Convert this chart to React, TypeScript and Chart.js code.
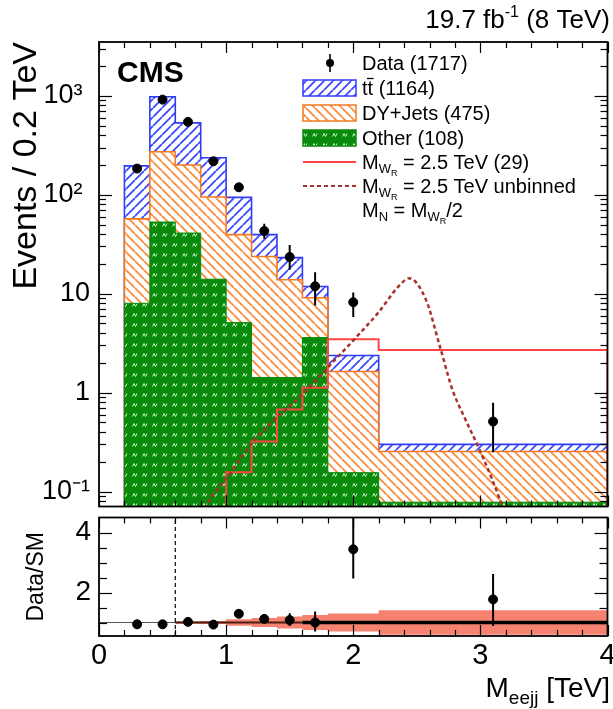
import React, { useEffect, useRef } from "react";
import { Chart, registerables } from "chart.js";
Chart.register(...registerables);

const FONT = "'Liberation Sans', Arial, Helvetica, sans-serif";

// ---------------- data ----------------
const binEdges = [0.2, 0.4, 0.6, 0.8, 1.0, 1.2, 1.4, 1.6, 1.8, 2.2, 4.0];
const otherEvents = [8, 53, 41, 14, 5.1, 1.42, 1.42, 3.6, 0.155, 0.078];
const dyJetsEvents = [49, 219, 159, 81, 34.4, 22.3, 12.4, 5.5, 1.48, 0.176];
const ttbarEvents = [139, 705, 333, 142, 54.5, 15.8, 9.3, 2.7, 0.74, 0.046];
const signalEvents = [0.01, 0.01, 0.01, 0.01, 0.157, 0.32, 0.676, 1.12, 3.47, 2.7];

const unbinnedMass = [0.78, 0.86, 1.0, 1.21, 1.39, 1.62, 1.81, 2.01, 2.2, 2.36, 2.44, 2.57, 2.68, 2.78, 2.88, 2.99, 3.09, 3.15, 3.2];
const unbinnedEvents = [0.05, 0.079, 0.135, 0.316, 0.545, 1.01, 1.85, 3.48, 6.5, 12.0, 14.3, 8.8, 2.98, 1.07, 0.544, 0.271, 0.135, 0.085, 0.055];

const dataMass = [0.3, 0.5, 0.7, 0.9, 1.1, 1.3, 1.5, 1.7, 2.0, 3.1];
const dataEvents = [184, 915, 545, 218, 119, 43, 23.5, 11.9, 8.2, 0.51];
const dataErrLow = [171, 885, 522, 204, 108, 36, 17.5, 7.6, 5.8, 0.25];
const dataErrHigh = [198, 945, 568, 233, 131, 51, 31, 16.5, 10.3, 0.79];

const ratioValues = [0.94, 0.94, 1.02, 0.93, 1.29, 1.12, 1.08, 1.0, 3.44, 1.77];
const ratioErrLow = [0.9, 0.91, 0.98, 0.88, 1.17, 0.98, 0.88, 0.7, 2.47, 0.88];
const ratioErrHigh = [0.98, 0.97, 1.06, 0.98, 1.41, 1.27, 1.31, 1.37, 4.7, 2.62];

const bandEdges = [0.6, 0.8, 1.0, 1.2, 1.4, 1.6, 1.8, 2.2, 4.0];
const bandHalfWidth = [0.04, 0.05, 0.11, 0.15, 0.2, 0.25, 0.3, 0.41];

const mainTickValues = [0.1, 1, 10, 100, 1000];
const mainTickLabels = ["10\u207B\u00B9", "1", "10", "10\u00B2 ", "10\u00B3 "];
const ratioTickValues = [2, 4];
const ratioTickLabels = ["2", "4"];
const massTickValues = [0, 1, 2, 3, 4];
const massTickLabels = ["0", "1", "2", "3", "4"];
const legendCounts = ["(1717)", "(1164)", "(475)", "(108)", "(29)"];

const Y_MIN = 0.0706;
const Y_MAX = 3500;
const R_MIN = 0.55;
const R_MAX = 4.5;

// ---------------- helpers ----------------
type Part = { t: string; size: number; dy?: number; bold?: boolean };

function drawParts(ctx: CanvasRenderingContext2D, parts: Part[], x: number, y: number, align: "left" | "right") {
  ctx.textBaseline = "alphabetic";
  ctx.textAlign = "left";
  const widths = parts.map((p) => {
    ctx.font = `${p.bold ? "bold " : ""}${p.size}px ${FONT}`;
    return ctx.measureText(p.t).width;
  });
  const total = widths.reduce((a, b) => a + b, 0);
  let cx = align === "right" ? x - total : x;
  const starts: number[] = [];
  parts.forEach((p, i) => {
    ctx.font = `${p.bold ? "bold " : ""}${p.size}px ${FONT}`;
    starts.push(cx);
    ctx.fillText(p.t, cx, y + (p.dy || 0));
    cx += widths[i];
  });
  return { starts, widths };
}

function makeHatch(ctx: CanvasRenderingContext2D, color: string, dir: number, size: number, lw: number) {
  const c = document.createElement("canvas");
  c.width = size;
  c.height = size;
  const g = c.getContext("2d")!;
  g.fillStyle = "#ffffff";
  g.fillRect(0, 0, size, size);
  g.strokeStyle = color;
  g.lineWidth = lw;
  g.beginPath();
  for (let k = -1; k <= 1; k++) {
    if (dir > 0) {
      g.moveTo(k * size, size);
      g.lineTo(k * size + size, 0);
    } else {
      g.moveTo(k * size, 0);
      g.lineTo(k * size + size, size);
    }
  }
  g.stroke();
  return ctx.createPattern(c, "repeat")!;
}

function makeGreen(ctx: CanvasRenderingContext2D) {
  const c = document.createElement("canvas");
  c.width = 10;
  c.height = 10;
  const g = c.getContext("2d")!;
  g.fillStyle = "#0a8a0a";
  g.fillRect(0, 0, 10, 10);
  g.strokeStyle = "rgba(215,255,215,0.9)";
  g.lineWidth = 1;
  g.beginPath();
  g.moveTo(2.5, 6.5);
  g.lineTo(4, 3.5);
  g.lineTo(5.5, 6.5);
  g.lineTo(7, 3.5);
  g.stroke();
  return ctx.createPattern(c, "repeat")!;
}

function stepPoints(edges: number[], values: number[], floor?: number) {
  const pts: { x: number; y: number }[] = [];
  if (floor !== undefined) pts.push({ x: edges[0], y: floor });
  values.forEach((v, i) => pts.push({ x: edges[i], y: v }));
  pts.push({ x: edges[edges.length - 1], y: values[values.length - 1] });
  if (floor !== undefined) pts.push({ x: edges[edges.length - 1], y: floor });
  return pts;
}

function line(ctx: CanvasRenderingContext2D, x1: number, y1: number, x2: number, y2: number) {
  ctx.beginPath();
  ctx.moveTo(x1, y1);
  ctx.lineTo(x2, y2);
  ctx.stroke();
}

function drawXTicks(ctx: CanvasRenderingContext2D, x: any, a: any) {
  for (let k = 0; k <= 20; k++) {
    const px = Math.round(x.getPixelForValue(k * 0.2)) + 0.5;
    const len = k % 5 === 0 ? 11 : 6;
    line(ctx, px, a.top, px, a.top + len);
    line(ctx, px, a.bottom, px, a.bottom - len);
  }
}

export default function App() {
  const mainRef = useRef<HTMLCanvasElement>(null);
  const ratioRef = useRef<HTMLCanvasElement>(null);

  useEffect(() => {
    document.body.style.margin = "0";
    const mc = mainRef.current!;
    const rc = ratioRef.current!;
    const mctx = mc.getContext("2d")!;
    const ttColor = "#2e3cf6";
    const dyColor = "#f47a22";
    const grColor = "#0a8a0a";
    const sigColor = "#ff4545";
    const unbColor = "#a8322c";
    const ttPat = makeHatch(mctx, "#3a4aff", 1, 9, 1.8);
    const dyPat = makeHatch(mctx, "#fb8b3e", -1, 9, 1.8);
    const grPat = makeGreen(mctx);
    const floor = 1e-3;

    const otherTop = otherEvents.slice();
    const dyTop = otherEvents.map((v, i) => v + dyJetsEvents[i]);
    const totalTop = dyTop.map((v, i) => v + ttbarEvents[i]);

    const mainDecor = {
      id: "mainDecor",
      afterDatasetsDraw(chart: any) {
        const { ctx, chartArea: a, scales } = chart;
        const x = scales.x, y = scales.y;
        ctx.save();
        ctx.beginPath();
        ctx.rect(a.left, a.top, a.right - a.left, a.bottom - a.top);
        ctx.clip();
        ctx.strokeStyle = "#000";
        ctx.lineWidth = 2;
        dataMass.forEach((m, i) => {
          const px = x.getPixelForValue(m);
          line(ctx, px, y.getPixelForValue(dataErrLow[i]), px, y.getPixelForValue(dataErrHigh[i]));
        });
        ctx.restore();
      },
      afterDraw(chart: any) {
        const { ctx, chartArea: a, scales } = chart;
        const x = scales.x, y = scales.y;
        ctx.save();
        ctx.strokeStyle = "#000";
        ctx.lineWidth = 1.2;
        for (let e = -2; e <= 4; e++) {
          for (let m = 1; m <= 9; m++) {
            const v = m * Math.pow(10, e);
            if (v < Y_MIN || v > Y_MAX) continue;
            const py = Math.round(y.getPixelForValue(v)) + 0.5;
            const len = m === 1 ? 13 : 7;
            line(ctx, a.left, py, a.left + len, py);
            line(ctx, a.right, py, a.right - len, py);
          }
        }
        drawXTicks(ctx, x, a);
        ctx.lineWidth = 1.8;
        ctx.strokeRect(a.left, a.top, a.right - a.left, a.bottom - a.top);

        ctx.fillStyle = "#000";
        // luminosity label
        drawParts(ctx, [
          { t: "19.7 fb", size: 26 },
          { t: "-1", size: 16, dy: -11 },
          { t: " (8 TeV)", size: 26 },
        ], 610, 28, "right");
        // CMS
        drawParts(ctx, [{ t: "CMS", size: 30, bold: true }], 117, 82, "left");

        // legend
        const lx0 = 303, lx1 = 356, tx = 362, bh = 16;
        const rows = [63, 88, 113, 138, 162, 186, 210];
        const fs = 20;
        const base = (r: number) => rows[r] + 7;
        ctx.fillStyle = "#000";
        ctx.beginPath();
        ctx.arc(330, rows[0], 4, 0, Math.PI * 2);
        ctx.fill();
        ctx.lineWidth = 1.6;
        line(ctx, 330, rows[0] - 9, 330, rows[0] + 9);
        const box = (fill: any, stroke: string, r: number) => {
          ctx.fillStyle = fill;
          ctx.fillRect(lx0, rows[r] - bh / 2, lx1 - lx0, bh);
          ctx.strokeStyle = stroke;
          ctx.lineWidth = 1.5;
          ctx.strokeRect(lx0, rows[r] - bh / 2, lx1 - lx0, bh);
        };
        box(ttPat, ttColor, 1);
        box(dyPat, dyColor, 2);
        box(grPat, grColor, 3);
        ctx.strokeStyle = sigColor;
        ctx.lineWidth = 2;
        line(ctx, lx0, rows[4], lx1, rows[4]);
        ctx.strokeStyle = unbColor;
        ctx.lineWidth = 2.2;
        ctx.setLineDash([4, 3]);
        line(ctx, lx0, rows[5], lx1, rows[5]);
        ctx.setLineDash([]);

        ctx.fillStyle = "#000";
        drawParts(ctx, [{ t: "Data " + legendCounts[0], size: fs }], tx, base(0), "left");
        const tt = drawParts(ctx, [{ t: "t", size: fs }, { t: "t", size: fs }, { t: " " + legendCounts[1], size: fs }], tx, base(1), "left");
        ctx.strokeStyle = "#000";
        ctx.lineWidth = 1.3;
        line(ctx, tt.starts[1] - 0.5, base(1) - 16.5, tt.starts[1] + tt.widths[1] + 0.5, base(1) - 16.5);
        drawParts(ctx, [{ t: "DY+Jets " + legendCounts[2], size: fs }], tx, base(2), "left");
        drawParts(ctx, [{ t: "Other " + legendCounts[3], size: fs }], tx, base(3), "left");
        const mw: Part[] = [
          { t: "M", size: fs },
          { t: "W", size: 13, dy: 4 },
          { t: "R", size: 9, dy: 7 },
        ];
        drawParts(ctx, [...mw, { t: " = 2.5 TeV " + legendCounts[4], size: fs }], tx, base(4), "left");
        drawParts(ctx, [...mw, { t: " = 2.5 TeV unbinned", size: fs }], tx, base(5), "left");
        drawParts(ctx, [
          { t: "M", size: fs },
          { t: "N", size: 13, dy: 4 },
          { t: " = M", size: fs },
          { t: "W", size: 13, dy: 4 },
          { t: "R", size: 9, dy: 7 },
          { t: "/2", size: fs },
        ], tx, base(6), "left");
        ctx.restore();
      },
    };

    const main = new Chart(mc, {
      type: "line",
      data: {
        datasets: [
          {
            label: "Data",
            data: dataMass.map((x, i) => ({ x, y: dataEvents[i] })),
            showLine: false,
            pointRadius: 4.5,
            pointBackgroundColor: "#000",
            pointBorderColor: "#000",
            order: 0,
          },
          {
            label: "MWR = 2.5 TeV unbinned",
            data: unbinnedMass.map((x, i) => ({ x, y: unbinnedEvents[i] })),
            borderColor: unbColor,
            borderWidth: 2.5,
            borderDash: [4, 3],
            pointRadius: 0,
            cubicInterpolationMode: "monotone",
            fill: false,
            order: 1,
          },
          {
            label: "MWR = 2.5 TeV",
            data: stepPoints(binEdges, signalEvents, floor),
            stepped: true,
            borderColor: sigColor,
            borderWidth: 2,
            pointRadius: 0,
            fill: false,
            order: 2,
          },
          {
            label: "Other",
            data: stepPoints(binEdges, otherTop, floor),
            stepped: true,
            borderColor: grColor,
            borderWidth: 1,
            backgroundColor: grPat,
            fill: "start",
            pointRadius: 0,
            order: 3,
          },
          {
            label: "DY+Jets",
            data: stepPoints(binEdges, dyTop, floor),
            stepped: true,
            borderColor: dyColor,
            borderWidth: 1.6,
            backgroundColor: dyPat,
            fill: "start",
            pointRadius: 0,
            order: 4,
          },
          {
            label: "ttbar",
            data: stepPoints(binEdges, totalTop, floor),
            stepped: true,
            borderColor: ttColor,
            borderWidth: 1.6,
            backgroundColor: ttPat,
            fill: "start",
            pointRadius: 0,
            order: 5,
          },
        ],
      },
      options: {
        responsive: false,
        animation: false,
        devicePixelRatio: 1,
        events: [],
        layout: { padding: { top: 42, right: 4, bottom: 4, left: 0 } },
        plugins: { legend: { display: false }, tooltip: { enabled: false } },
        scales: {
          x: { type: "linear", min: 0, max: 4, display: false },
          y: {
            type: "logarithmic",
            min: Y_MIN,
            max: Y_MAX,
            afterBuildTicks: (s: any) => {
              s.ticks = mainTickValues.map((v) => ({ value: v }));
            },
            afterFit: (s: any) => {
              s.width = 99;
              s.paddingTop = 0;
              s.paddingBottom = 0;
            },
            ticks: {
              autoSkip: false,
              callback: (_v: any, i: number) => mainTickLabels[i],
              font: { family: FONT, size: 27 },
              color: "#000",
              padding: 9,
            },
            grid: { display: false, drawTicks: false },
            border: { display: false },
            title: {
              display: true,
              text: "Events / 0.2 TeV",
              align: "end",
              color: "#000",
              font: { family: FONT, size: 34 },
              padding: { top: 6, bottom: 0 },
            },
          },
        },
      },
      plugins: [mainDecor],
    } as any);

    const ratioDecor = {
      id: "ratioDecor",
      afterDatasetsDraw(chart: any) {
        const { ctx, chartArea: a, scales } = chart;
        const x = scales.x, y = scales.y;
        ctx.save();
        ctx.beginPath();
        ctx.rect(a.left, a.top, a.right - a.left, a.bottom - a.top);
        ctx.clip();
        ctx.strokeStyle = "#000";
        ctx.lineWidth = 2;
        dataMass.forEach((m, i) => {
          const px = x.getPixelForValue(m);
          line(ctx, px, y.getPixelForValue(ratioErrLow[i]), px, y.getPixelForValue(ratioErrHigh[i]));
        });
        ctx.restore();
      },
      afterDraw(chart: any) {
        const { ctx, chartArea: a, scales } = chart;
        const x = scales.x, y = scales.y;
        ctx.save();
        ctx.strokeStyle = "#000";
        ctx.lineWidth = 1.2;
        for (let k = 2; k <= 8; k++) {
          const v = k * 0.5;
          const py = Math.round(y.getPixelForValue(v)) + 0.5;
          const len = v === 2 || v === 4 ? 13 : 8;
          line(ctx, a.left, py, a.left + len, py);
          line(ctx, a.right, py, a.right - len, py);
        }
        drawXTicks(ctx, x, a);
        ctx.lineWidth = 1.8;
        ctx.strokeRect(a.left, a.top, a.right - a.left, a.bottom - a.top);
        ctx.fillStyle = "#000";
        drawParts(ctx, [
          { t: "M", size: 28 },
          { t: "eejj", size: 19, dy: 7 },
          { t: " [TeV]", size: 28 },
        ], 610, 185, "right");
        ctx.restore();
      },
    };

    const ratio = new Chart(rc, {
      type: "line",
      data: {
        datasets: [
          {
            label: "Data/SM",
            data: dataMass.map((x, i) => ({ x, y: ratioValues[i] })),
            showLine: false,
            pointRadius: 4.5,
            pointBackgroundColor: "#000",
            pointBorderColor: "#000",
            order: 0,
          },
          {
            label: "unity thick",
            data: [{ x: 1.6, y: 1 }, { x: 4, y: 1 }],
            borderColor: "#000",
            borderWidth: 3.5,
            pointRadius: 0,
            order: 1,
          },
          {
            label: "unity mid",
            data: [{ x: 0.6, y: 1 }, { x: 1.6, y: 1 }],
            borderColor: "#4a1f14",
            borderWidth: 2,
            pointRadius: 0,
            order: 2,
          },
          {
            label: "unity",
            data: [{ x: 0, y: 1 }, { x: 4, y: 1 }],
            borderColor: "#555",
            borderWidth: 1.2,
            pointRadius: 0,
            order: 3,
          },
          {
            label: "cut",
            data: [{ x: 0.6, y: R_MIN }, { x: 0.6, y: R_MAX }],
            borderColor: "#000",
            borderWidth: 1.2,
            borderDash: [4, 3],
            pointRadius: 0,
            order: 1,
          },
          {
            label: "band up",
            data: stepPoints(bandEdges, bandHalfWidth.map((h) => 1 + h)),
            stepped: true,
            borderColor: "rgba(0,0,0,0)",
            borderWidth: 1,
            pointRadius: 0,
            fill: false,
            order: 5,
          },
          {
            label: "band",
            data: stepPoints(bandEdges, bandHalfWidth.map((h) => 1 - h)),
            stepped: true,
            borderColor: "rgba(0,0,0,0)",
            borderWidth: 1,
            pointRadius: 0,
            backgroundColor: "#f6836f",
            fill: "-1",
            order: 4,
          },
        ],
      },
      options: {
        responsive: false,
        animation: false,
        devicePixelRatio: 1,
        events: [],
        layout: { padding: { top: 2, right: 4, bottom: 0, left: 0 } },
        plugins: { legend: { display: false }, tooltip: { enabled: false } },
        scales: {
          x: {
            type: "linear",
            min: 0,
            max: 4,
            afterBuildTicks: (s: any) => {
              s.ticks = massTickValues.map((v) => ({ value: v }));
            },
            afterFit: (s: any) => {
              s.height = 73;
              s.paddingLeft = 0;
              s.paddingRight = 0;
            },
            ticks: {
              autoSkip: false,
              maxRotation: 0,
              callback: (_v: any, i: number) => massTickLabels[i],
              font: { family: FONT, size: 29 },
              color: "#000",
              padding: 3,
            },
            grid: { display: false, drawTicks: false },
            border: { display: false },
          },
          y: {
            type: "linear",
            min: R_MIN,
            max: R_MAX,
            afterBuildTicks: (s: any) => {
              s.ticks = ratioTickValues.map((v) => ({ value: v }));
            },
            afterFit: (s: any) => {
              s.width = 99;
              s.paddingTop = 0;
              s.paddingBottom = 0;
            },
            ticks: {
              autoSkip: false,
              callback: (_v: any, i: number) => ratioTickLabels[i],
              font: { family: FONT, size: 28 },
              color: "#000",
              padding: 8,
            },
            grid: { display: false, drawTicks: false },
            border: { display: false },
            title: {
              display: true,
              text: "Data/SM",
              color: "#000",
              font: { family: FONT, size: 23 },
              padding: { top: 23, bottom: 0 },
            },
          },
        },
      },
      plugins: [ratioDecor],
    } as any);

    return () => {
      main.destroy();
      ratio.destroy();
    };
  }, []);

  return (
    <div style={{ position: "fixed", left: 0, top: 0, width: 613, height: 709, background: "#fff" }}>
      <canvas ref={mainRef} width={613} height={512} style={{ position: "absolute", left: 0, top: 0, width: 613, height: 512 }} />
      <canvas ref={ratioRef} width={613} height={197} style={{ position: "absolute", left: 0, top: 512, width: 613, height: 197 }} />
    </div>
  );
}
